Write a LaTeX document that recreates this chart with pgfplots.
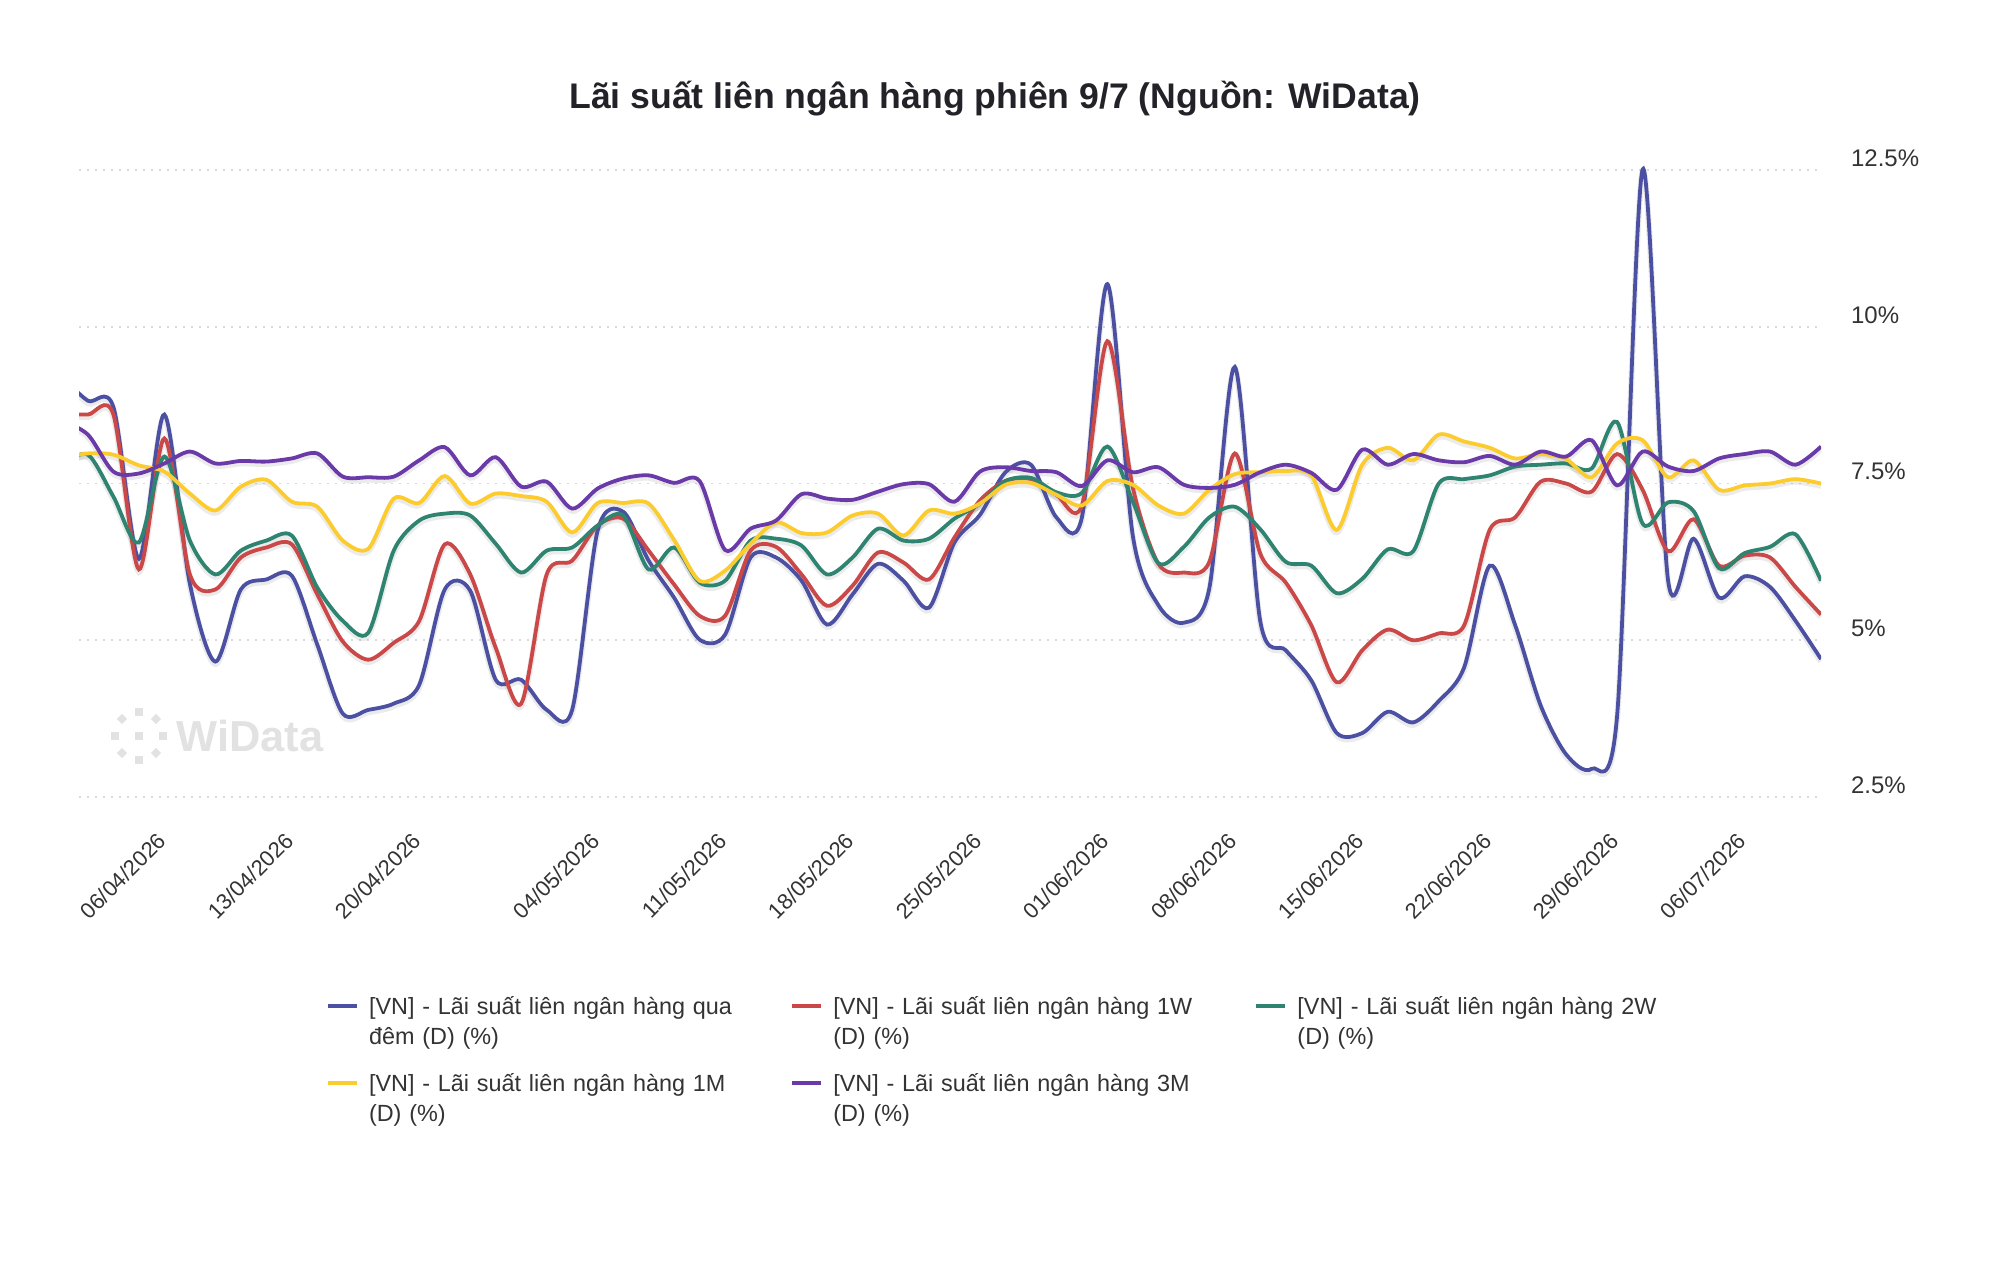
\documentclass[border=0pt]{standalone}
\usepackage{pgfplots}
\pgfplotsset{compat=1.18}
\usepackage{pgfplotstable}
\usepackage{fontspec}
\setmainfont{Liberation Sans}

\definecolor{cOn}{RGB}{76,80,162}
\definecolor{cOneW}{RGB}{203,72,72}
\definecolor{cTwoW}{RGB}{46,132,112}
\definecolor{cOneM}{RGB}{252,204,46}
\definecolor{cThreeM}{RGB}{106,58,168}
\definecolor{txt}{RGB}{51,51,51}
\definecolor{ttl}{RGB}{34,34,40}
\definecolor{wm}{RGB}{226,226,226}

% Interbank rates (%), one row per business day; idx 0 = 01/04/2026, 68 = 09/07/2026
\pgfplotstableread{
idx on    w1    w2    m1    m3
-1  9.20  8.60  7.80  7.90  8.50
0   8.82  8.60  7.96  7.98  8.28
1   8.72  8.60  7.29  7.96  7.69
2   6.30  6.13  6.56  7.79  7.66
3   8.60  8.22  7.93  7.69  7.82
4   5.90  6.05  6.59  7.34  8.01
5   4.66  5.81  6.05  7.07  7.82
6   5.81  6.32  6.43  7.45  7.86
7   5.97  6.48  6.59  7.56  7.85
8   6.03  6.53  6.67  7.21  7.90
9   4.93  5.73  5.84  7.13  7.98
10  3.83  4.98  5.31  6.59  7.61
11  3.89  4.69  5.12  6.46  7.60
12  3.99  4.96  6.43  7.26  7.61
13  4.29  5.31  6.91  7.19  7.87
14  5.81  6.53  7.02  7.62  8.08
15  5.79  6.05  6.99  7.18  7.63
16  4.37  4.88  6.54  7.34  7.92
17  4.37  3.99  6.08  7.30  7.45
18  3.89  6.05  6.43  7.21  7.53
19  3.89  6.27  6.48  6.72  7.10
20  6.75  6.83  6.83  7.19  7.42
21  7.05  6.94  6.99  7.19  7.58
22  6.27  6.43  6.13  7.18  7.63
23  5.68  5.89  6.48  6.60  7.51
24  5.01  5.39  5.92  5.95  7.54
25  5.09  5.39  5.95  6.11  6.44
26  6.32  6.43  6.59  6.54  6.78
27  6.32  6.49  6.62  6.88  6.91
28  5.95  6.05  6.51  6.71  7.33
29  5.25  5.55  6.05  6.72  7.26
30  5.73  5.87  6.32  6.99  7.24
31  6.22  6.40  6.78  7.02  7.37
32  5.95  6.24  6.59  6.67  7.49
33  5.52  5.97  6.62  7.07  7.49
34  6.56  6.64  6.94  7.02  7.21
35  7.00  7.23  7.18  7.18  7.69
36  7.68  7.54  7.54  7.48  7.76
37  7.80  7.57  7.59  7.51  7.70
38  6.96  7.32  7.36  7.32  7.68
39  6.96  7.15  7.35  7.15  7.46
40  10.68 9.77  8.09  7.54  7.87
41  6.66  7.43  7.21  7.48  7.68
42  5.56  6.22  6.23  7.15  7.76
43  5.28  6.08  6.49  7.02  7.48
44  5.83  6.25  6.96  7.40  7.43
45  9.36  7.98  7.13  7.65  7.48
46  5.30  6.38  6.77  7.68  7.68
47  4.84  5.92  6.25  7.70  7.80
48  4.36  5.24  6.19  7.63  7.67
49  3.52  4.33  5.75  6.76  7.40
50  3.52  4.84  5.98  7.80  8.04
51  3.86  5.17  6.45  8.07  7.80
52  3.69  5.00  6.42  7.87  7.97
53  4.03  5.11  7.50  8.28  7.87
54  4.57  5.24  7.57  8.17  7.84
55  6.19  6.76  7.63  8.07  7.94
56  5.24  6.96  7.77  7.90  7.80
57  3.96  7.53  7.80  7.97  8.01
58  3.18  7.50  7.82  7.89  7.93
59  2.95  7.37  7.74  7.60  8.19
60  3.80  7.97  8.48  8.14  7.47
61  12.51 7.40  6.86  8.19  8.01
62  5.95  6.42  7.20  7.60  7.77
63  6.62  6.93  7.06  7.87  7.70
64  5.68  6.19  6.15  7.40  7.90
65  6.02  6.35  6.39  7.47  7.97
66  5.85  6.32  6.49  7.50  8.01
67  5.31  5.85  6.69  7.57  7.80
68  4.70  5.41  5.95  7.50  8.09
}\rates

\begin{document}
\begin{tikzpicture}
% page frame
\path (0pt,0pt) rectangle (1000pt,631pt);

% title
\node[font=\bfseries\fontsize{17.8}{21}\selectfont, text=ttl] at (497.5pt,581.6pt)
  {Lãi suất liên ngân hàng phiên 9/7 (Nguồn: WiData)};

% watermark logo and wordmark
\begin{scope}[shift={(69.5pt,263pt)}, fill=wm]
  \fill (-1.8pt,-1.8pt) rectangle (1.8pt,1.8pt);
  \foreach \a in {0,90,180,270}
    \fill[shift={(\a:12pt)}] (-1.8pt,-1.8pt) rectangle (1.8pt,1.8pt);
  \foreach \a in {45,135,225,315}
    \fill[shift={(\a:12pt)}, rotate=45] (-1.8pt,-1.8pt) rectangle (1.8pt,1.8pt);
\end{scope}
\node[anchor=west, font=\bfseries\fontsize{21.7}{24}\selectfont, text=wm, inner sep=0pt] at (88pt,263pt) {WiData};

\begin{axis}[
  at={(39.5pt,229.35pt)}, anchor=south west,
  scale only axis, width=871pt, height=319.77pt,
  xmin=-0.35, xmax=68, ymin=2.4, ymax=12.6,
  axis line style={draw=none},
  tick style={draw=none},
  ymajorgrids,
  grid style={gray!30, line width=0.9pt, dash pattern=on 0.9pt off 3.1pt},
  ytick={2.5,5,7.5,10,12.5},
  yticklabels={2.5\%,5\%,7.5\%,10\%,12.5\%},
  yticklabel pos=right,
  yticklabel style={anchor=west, xshift=11.5pt, yshift=6pt,
    font=\fontsize{12}{14}\selectfont, text=txt},
  xtick={3,8,13,20,25,30,35,40,45,50,55,60,65},
  xticklabels={06/04/2026,13/04/2026,20/04/2026,04/05/2026,11/05/2026,
    18/05/2026,25/05/2026,01/06/2026,08/06/2026,15/06/2026,22/06/2026,
    29/06/2026,06/07/2026},
  xticklabel style={rotate=45, anchor=north east, yshift=-3.5pt, xshift=-9.3pt,
    font=\fontsize{11}{13}\selectfont, text=txt},
  legend columns=3,
  legend cell align=left,
  legend style={at={(axis description cs:0.1378,-0.295)}, anchor=north west,
    draw=none, fill=none, column sep=0pt, row sep=28pt,
    font=\fontsize{11.7}{15}\selectfont, text=txt,
    nodes={inner xsep=5pt, inner ysep=0pt, text width=205.3pt, align=left}},
  legend image code/.code={\draw[#1, line width=2.3pt] (0pt,0.4pt) -- (14.5pt,0.4pt);},
  every axis plot/.append style={smooth, tension=0.5, line width=1.9pt, no marks},
]
% soft shadows under the lines
\pgfplotsinvokeforeach{on,w1,w2,m1,m3}{
  \addplot[forget plot, black, opacity=0.08, line width=3pt, yshift=-1.2pt] table[x=idx, y=#1] {\rates};
}
\addplot[cOn]     table[x=idx, y=on] {\rates};
\addlegendentry{[VN] - Lãi suất liên ngân hàng qua\\đêm (D) (\%)}
\addplot[cOneW]   table[x=idx, y=w1] {\rates};
\addlegendentry{[VN] - Lãi suất liên ngân hàng 1W\\(D) (\%)}
\addplot[cTwoW]   table[x=idx, y=w2] {\rates};
\addlegendentry{[VN] - Lãi suất liên ngân hàng 2W\\(D) (\%)}
\addplot[cOneM]   table[x=idx, y=m1] {\rates};
\addlegendentry{[VN] - Lãi suất liên ngân hàng 1M\\(D) (\%)}
\addplot[cThreeM] table[x=idx, y=m3] {\rates};
\addlegendentry{[VN] - Lãi suất liên ngân hàng 3M\\(D) (\%)}
\end{axis}
\end{tikzpicture}
\end{document}
